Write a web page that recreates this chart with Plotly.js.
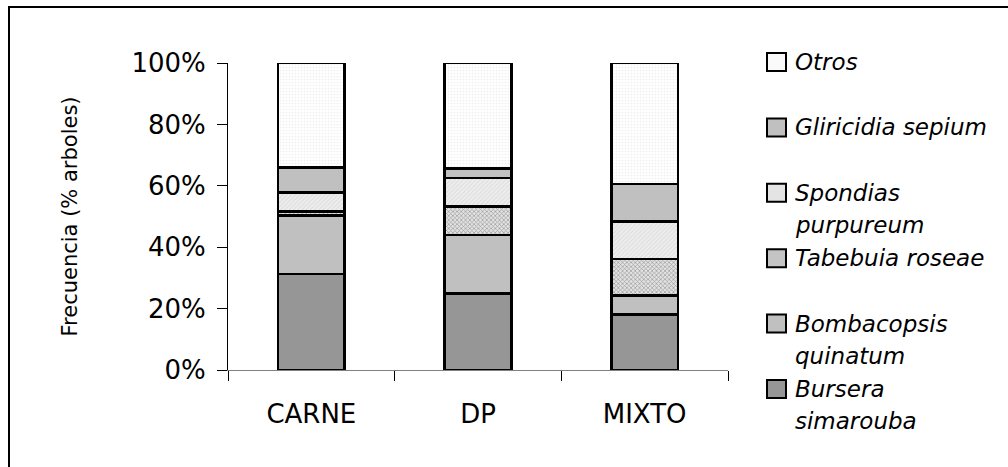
<!DOCTYPE html>
<html>
<head>
<meta charset="utf-8">
<script src="https://cdn.plot.ly/plotly-3.0.1.min.js"></script>
<style>
  html, body { margin: 0; padding: 0; background: #ffffff; }
  #frame { position: absolute; left: 8px; top: 6px; width: 1100px; height: 600px;
           border-left: 2px solid #000; border-top: 2px solid #000; pointer-events: none; }
  #chart { position: absolute; left: 0; top: 0; width: 1008px; height: 467px; }
</style>
</head>
<body>
<div id="frame"></div>
<div id="chart"></div>
<script>
// Tree species composition (% of trees) per farm system
const categories = ['CARNE', 'DP', 'MIXTO'];

// Stacked from bottom to top
const bursera     = [31.3, 25.0, 18.1];
const bombacopsis = [19.0, 18.9, 6.2];
const tabebuia    = [1.4, 9.4, 11.9];
const spondias    = [6.2, 9.3, 12.1];
const gliricidia  = [8.0, 3.1, 12.3];
const otros       = [34.1, 34.3, 39.4];

const seriesNames = ['Bursera simarouba', 'Bombacopsis quinatum', 'Tabebuia roseae',
                     'Spondias purpureum', 'Gliricidia sepium', 'Otros'];
const legendLines = [['Bursera', 'simarouba'], ['Bombacopsis', 'quinatum'], ['Tabebuia roseae'],
                     ['Spondias', 'purpureum'], ['Gliricidia sepium'], ['Otros']];
const yTickVals = [0, 20, 40, 60, 80, 100];

const seriesValues = [bursera, bombacopsis, tabebuia, spondias, gliricidia, otros];

const fills = [
  { color: '#969696' },
  { color: '#c0c0c0' },
  { color: '#d0d0d0', pattern: { shape: 'x', fgcolor: '#9a9a9a', bgcolor: '#e2e2e2', size: 3, solidity: 0.4 } },
  { color: '#ececec', pattern: { shape: '/', fgcolor: '#dadada', bgcolor: '#eeeeee', size: 3, solidity: 0.3 } },
  { color: '#c0c0c0' },
  { color: '#fcfcfc', pattern: { shape: '.', fgcolor: '#efefef', bgcolor: '#ffffff', size: 3, solidity: 0.25 } }
];
const legendSwatch = ['#969696', '#c0c0c0', '#c4c4c4', '#e4e4e4', '#c0c0c0', '#fafafa'];

const traces = seriesValues.map((vals, i) => {
  const marker = { color: fills[i].color, line: { color: '#000000', width: 2.5 } };
  if (fills[i].pattern) marker.pattern = Object.assign({ fillmode: 'replace' }, fills[i].pattern);
  return {
    type: 'bar',
    name: seriesNames[i],
    x: categories,
    y: vals,
    width: 0.4,
    marker: marker,
    showlegend: false,
    hoverinfo: 'x+y+name'
  };
});

const W = 1008, H = 467;
const M = { l: 228, r: 280, t: 63, b: 97 };
const pw = W - M.l - M.r, ph = H - M.t - M.b;
const fx = px => (px - M.l) / pw;
const fy = py => (H - M.b - py) / ph;

// Hand-built legend: top entry is the top of the stack
const shapes = [];
const annotations = [];
const legendTop = 62, legendStep = 65.4, lineStep = 32;
for (let k = 0; k < seriesNames.length; k++) {
  const i = seriesNames.length - 1 - k;
  const cy = legendTop + k * legendStep;
  shapes.push({
    type: 'rect', xref: 'paper', yref: 'paper',
    x0: fx(767), x1: fx(786), y0: fy(cy + 9), y1: fy(cy - 9),
    line: { color: '#000000', width: 2 }, fillcolor: legendSwatch[i]
  });
  legendLines[i].forEach((txt, j) => {
    annotations.push({
      xref: 'paper', yref: 'paper', x: fx(793), y: fy(cy + j * lineStep),
      xanchor: 'left', yanchor: 'middle', showarrow: false,
      text: '<i>' + txt + '</i>',
      font: { family: 'DejaVu Sans', size: 23, color: '#000000' }
    });
  });
}

const layout = {
  width: W, height: H,
  margin: M,
  paper_bgcolor: 'rgba(0,0,0,0)',
  plot_bgcolor: 'rgba(0,0,0,0)',
  barmode: 'stack',
  showlegend: false,
  font: { family: 'DejaVu Sans', color: '#000000' },
  xaxis: {
    type: 'category',
    range: [-0.5, 2.5],
    showline: true, linecolor: '#808080', linewidth: 1,
    ticks: 'outside', tickson: 'boundaries', ticklen: 10, tickcolor: '#000000', tickwidth: 1,
    showgrid: false, zeroline: false,
    tickfont: { family: 'DejaVu Sans', size: 26, color: '#000000' },
    ticklabelstandoff: 21
  },
  yaxis: {
    range: [0, 100],
    tickvals: yTickVals,
    ticktext: yTickVals.map(v => v + '%'),
    showline: true, linecolor: '#000000', linewidth: 1,
    ticks: 'outside', ticklen: 10, tickcolor: '#000000', tickwidth: 1,
    showgrid: false, zeroline: false,
    tickfont: { family: 'DejaVu Sans', size: 26, color: '#000000' },
    ticklabelstandoff: 6,
    title: { text: 'Frecuencia (% arboles)', font: { family: 'DejaVu Sans', size: 21, color: '#000000' }, standoff: 48 }
  },
  shapes: shapes,
  annotations: annotations
};

Plotly.newPlot('chart', traces, layout, { displayModeBar: false, staticPlot: true });
</script>
</body>
</html>
